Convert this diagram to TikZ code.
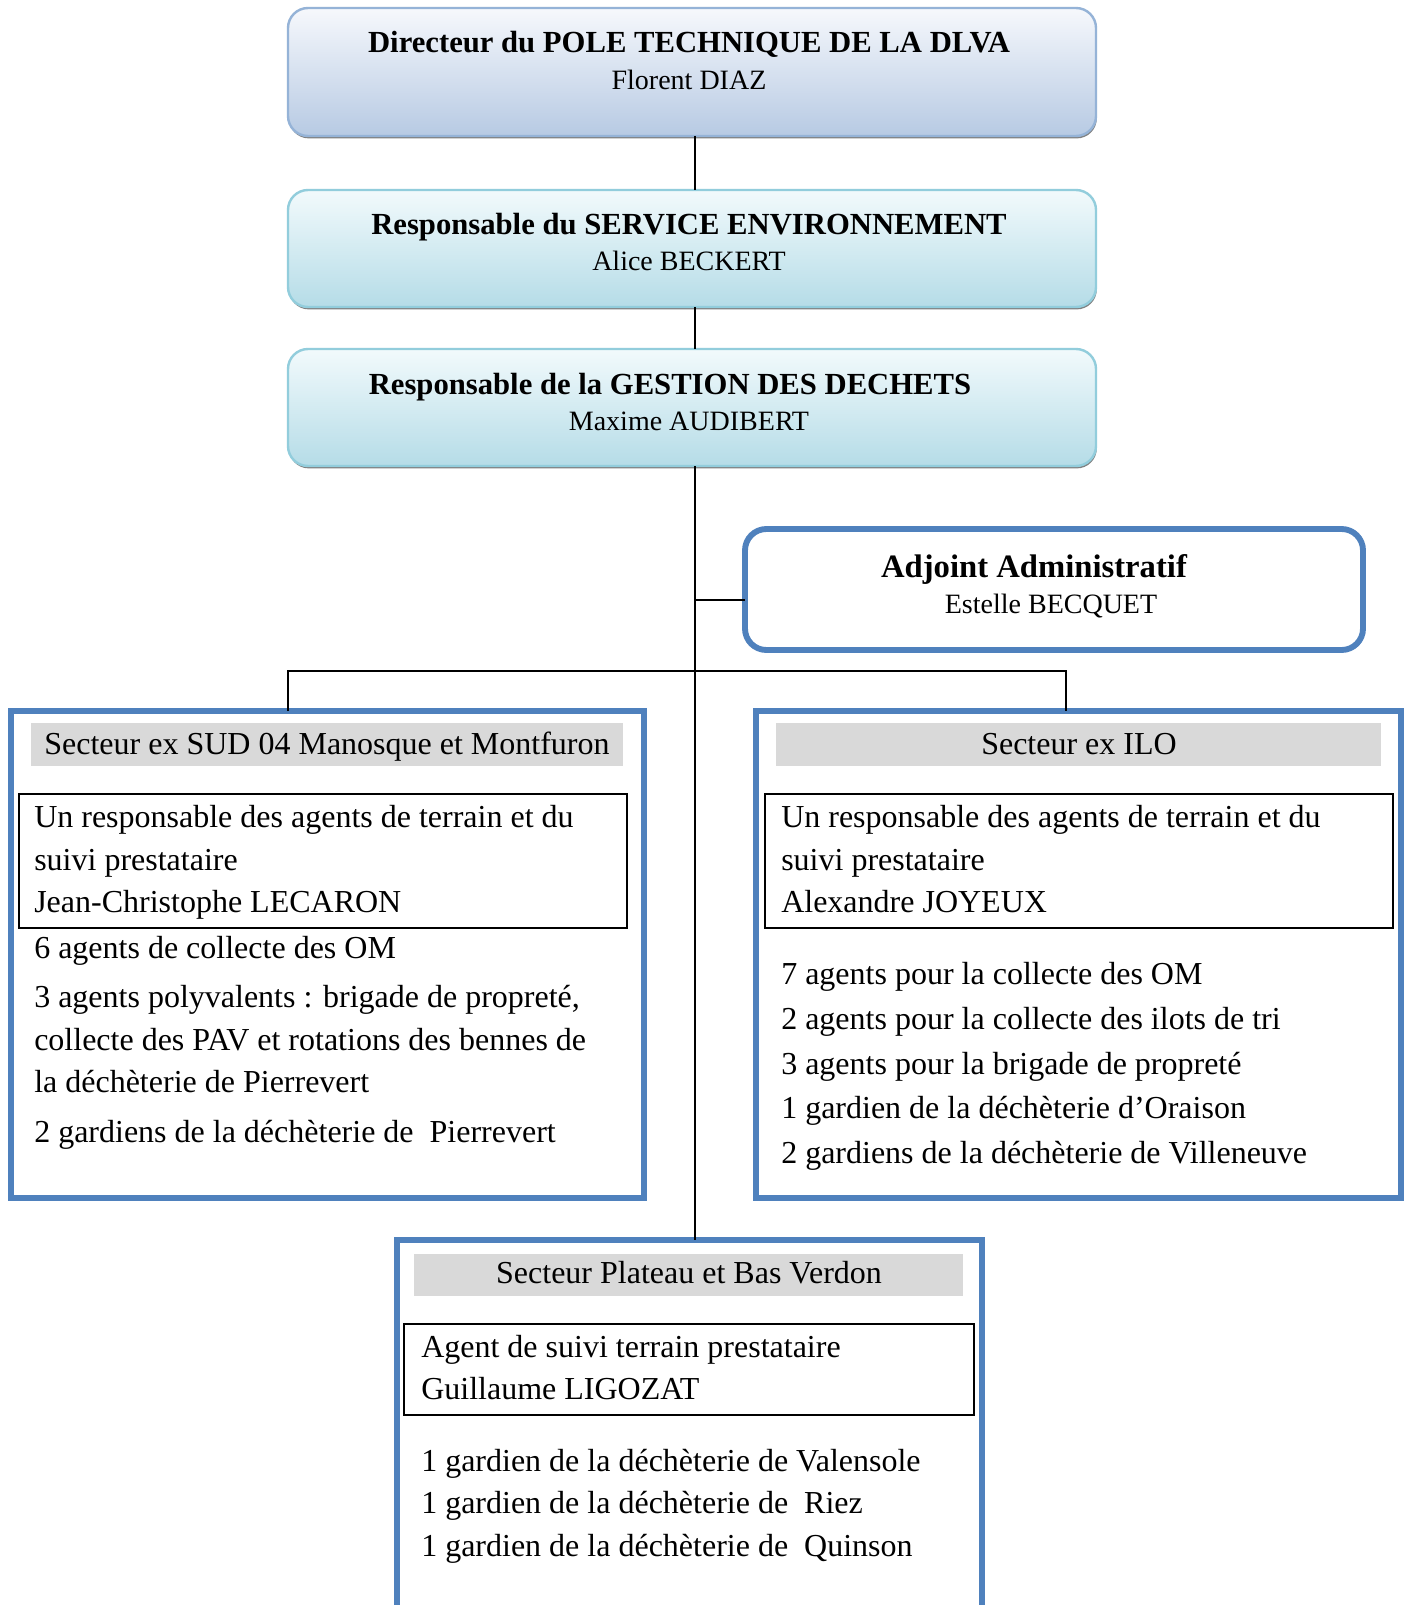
\documentclass[tikz,border=0pt]{standalone}
\usepackage{fontspec}
\setmainfont{Liberation Serif}
\usetikzlibrary{shadows}
\definecolor{bAtop}{HTML}{F6F8FC}
\definecolor{bAbot}{HTML}{B7CAE3}
\definecolor{bAline}{HTML}{95B3D7}
\definecolor{bBtop}{HTML}{F2FAFC}
\definecolor{bBbot}{HTML}{B5DCE7}
\definecolor{bBline}{HTML}{92CDDC}
\definecolor{secblue}{HTML}{4F81BD}
\definecolor{hdrgray}{HTML}{D9D9D9}
\begin{document}
\begin{tikzpicture}[x=0.75pt,y=-0.75pt,
  topbox/.style={draw=#1line, line width=1.8pt, rounded corners=15pt,
    top color=#1top, bottom color=#1bot, minimum width=606pt, inner sep=0pt, outer sep=0pt,
    drop shadow={shadow xshift=0.6pt, shadow yshift=-1.8pt, fill=black!50, opacity=1}},
  secbox/.style={draw=secblue, line width=4.4pt, fill=white, inner sep=0pt, outer sep=0pt},
  hdr/.style={fill=hdrgray, inner sep=0pt, outer sep=0pt},
  inbox/.style={draw=black, line width=1.5pt, inner sep=0pt, outer sep=0pt},
  conn/.style={draw=black, line width=1.3pt},
  bt/.style={font=\fontsize{23}{28}\selectfont\bfseries, inner sep=0pt, anchor=base},
  nt/.style={font=\fontsize{21}{26}\selectfont, inner sep=0pt, anchor=base},
  tt/.style={font=\fontsize{24}{30}\selectfont, inner sep=0pt, anchor=base west},
  ht/.style={font=\fontsize{24}{30}\selectfont, inner sep=0pt, anchor=base}]
\clip (0,0) rectangle (1404,1605);
\fill[white] (0,0) rectangle (1404,1605);

% coordinates of connector joints
\coordinate (tx) at (695,0);
\coordinate (ja) at (695,600);
\coordinate (bl) at (288,671);
\coordinate (br) at (1066,671);

% top boxes
\node[topbox=bA, minimum height=96pt] (B1) at (692,72) {};
\node[topbox=bB, minimum height=87.75pt] (B2) at (692,248.5) {};
\node[topbox=bB, minimum height=87.75pt] (B3) at (692,407.5) {};

% adjoint
\node[secbox, rounded corners=16pt, minimum width=463.5pt, minimum height=90.75pt] (Adj) at (1054,589.5) {};

% sector boxes
\node[secbox, minimum width=474.75pt, minimum height=365.25pt] (L) at (327.5,954.5) {};
\node[secbox, minimum width=483.75pt, minimum height=365.25pt] (R) at (1078.5,954.5) {};
\node[secbox, minimum width=438.75pt, minimum height=315pt] (Bo) at (689.5,1450) {};

% connectors
\draw[conn] (B1.south -| tx) -- (B2.north -| tx);
\draw[conn] (B2.south -| tx) -- (B3.north -| tx);
\draw[conn] (B3.south -| tx) -- (Bo.north -| tx);
\draw[conn] (ja) -- (ja -| Adj.west);
\draw[conn] (bl |- L.north) -- (bl) -- (br) -- (br |- R.north);

% headers
\node[hdr, minimum width=444pt, minimum height=32.25pt] (HL) at (327,744.5) {};
\node[hdr, minimum width=453.75pt, minimum height=32.25pt] (HR) at (1078.5,744.5) {};
\node[hdr, minimum width=411.75pt, minimum height=31.5pt] (HB) at (688.5,1275) {};

% inner boxes
\node[inbox, minimum width=456pt, minimum height=100.5pt] (IL) at (323,861) {};
\node[inbox, minimum width=471pt, minimum height=100.5pt] (IR) at (1079,861) {};
\node[inbox, minimum width=427.5pt, minimum height=68.25pt] (IB) at (689,1369.5) {};

% texts top
\node[bt] (t1) at (689,53) {Directeur du POLE TECHNIQUE DE LA DLVA};
\node[nt] (t2) at (689,90) {Florent DIAZ};
\node[bt] (t3) at (689,235) {Responsable du SERVICE ENVIRONNEMENT};
\node[nt] (t4) at (689,271) {Alice BECKERT};
\node[bt] (t5) at (670,394) {Responsable de la GESTION DES DECHETS};
\node[nt] (t6) at (689,430) {Maxime AUDIBERT};
\node[bt, font=\fontsize{24.5}{29}\selectfont\bfseries] (t7) at (1034,577) {Adjoint Administratif};
\node[nt] (t8) at (1051,613) {Estelle BECQUET};

% headers text
\node[ht] (h1) at (327,754) {Secteur ex SUD 04 Manosque et Montfuron};
\node[ht] (h2) at (1079,754) {Secteur ex ILO};
\node[ht] (h3) at (689,1283) {Secteur Plateau et Bas Verdon};

% left
\node[tt] (l1) at (34,827) {Un responsable des agents de terrain et du};
\node[tt] (l2) at (34,870) {suivi prestataire};
\node[tt] (l3) at (34,912) {Jean-Christophe LECARON};
\node[tt] (l4) at (34,958) {6 agents de collecte des OM};
\node[tt] (l5) at (34,1007) {3 agents polyvalents : brigade de propreté,};
\node[tt] (l6) at (34,1050) {collecte des PAV et rotations des bennes de};
\node[tt] (l7) at (34,1092) {la déchèterie de Pierrevert};
\node[tt] (l8) at (34,1142) {2 gardiens de la déchèterie de \ Pierrevert};

% right
\node[tt] (r1) at (781,827) {Un responsable des agents de terrain et du};
\node[tt] (r2) at (781,870) {suivi prestataire};
\node[tt] (r3) at (781,912) {Alexandre JOYEUX};
\node[tt] (r4) at (781,984) {7 agents pour la collecte des OM};
\node[tt] (r5) at (781,1029) {2 agents pour la collecte des ilots de tri};
\node[tt] (r6) at (781,1074) {3 agents pour la brigade de propreté};
\node[tt] (r7) at (781,1118) {1 gardien de la déchèterie d’Oraison};
\node[tt] (r8) at (781,1163) {2 gardiens de la déchèterie de Villeneuve};

% bottom
\node[tt] (b1) at (421,1357) {Agent de suivi terrain prestataire};
\node[tt] (b2) at (421,1399) {Guillaume LIGOZAT};
\node[tt] (b3) at (421,1471) {1 gardien de la déchèterie de Valensole};
\node[tt] (b4) at (421,1513) {1 gardien de la déchèterie de \ Riez};
\node[tt] (b5) at (421,1556) {1 gardien de la déchèterie de \ Quinson};
\end{tikzpicture}
\end{document}
